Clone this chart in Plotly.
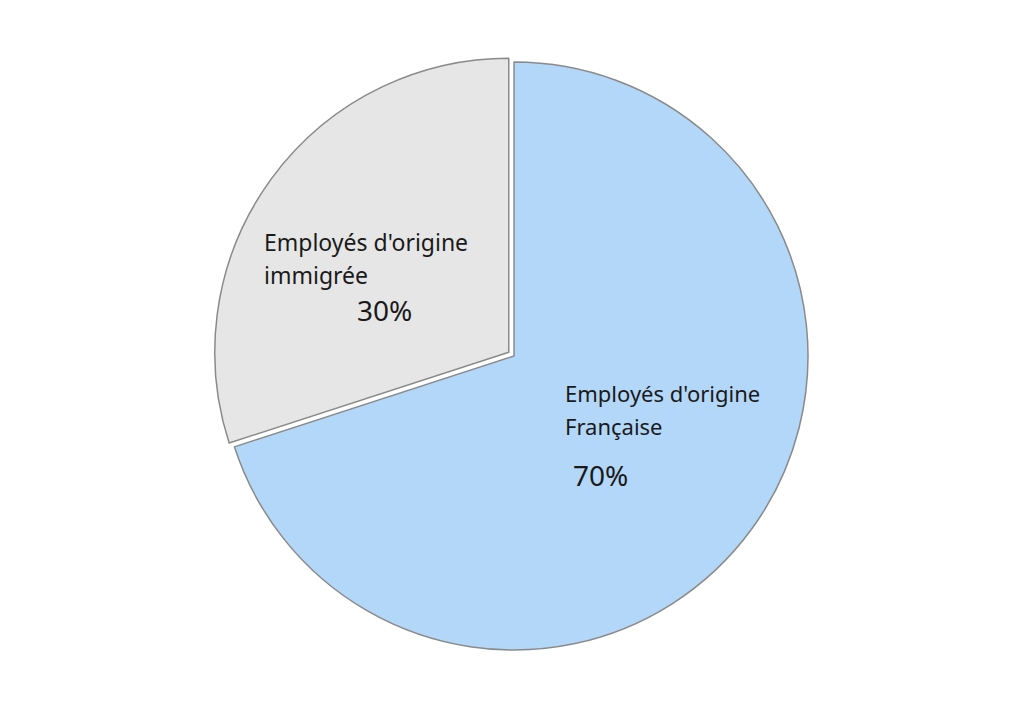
import plotly.graph_objects as go

labels = ["Employés d'origine Française", "Employés d'origine immigrée"]
values = [70, 30]
label_lines = [["Employés d'origine", "Française"], ["Employés d'origine", "immigrée"]]
colors = ["#b3d7f9", "#e6e6e6"]
pulls = [0, 0.022]

W, H = 1024, 712
OFF = 8  # page body margin
cx, cy, r = 514 - OFF, 356 - OFF, 294
D = 2 * r * (1 + max(pulls))

fig = go.Figure(go.Pie(
    labels=labels, values=values, sort=False, direction="clockwise", rotation=0,
    marker=dict(colors=colors, line=dict(color="#8a8a8a", width=1.5)),
    pull=pulls, textinfo="none", hoverinfo="label+percent", showlegend=False,
    domain=dict(x=[(cx - D / 2) / W, (cx + D / 2) / W],
                y=[1 - (cy + D / 2) / H, 1 - (cy - D / 2) / H]),
))

total = sum(values)
pct = [f"{round(v * 100 / total)}%" for v in values]

font = dict(family="Noto Sans, Open Sans, sans-serif", color="#1a1a1a")
# (x, y line1, y line2, pct x, pct y, label size) in pixels
pos = [(563, 393, 426, 600, 475, 22), (262, 242, 275, 384, 310, 23)]
ann = []
for i, (x, y1, y2, px, py, fs) in enumerate(pos):
    x, y1, y2, px, py = x - OFF, y1 - OFF, y2 - OFF, px - OFF, py - OFF
    ann.append(dict(x=x / W, y=1 - y1 / H, text=label_lines[i][0], xanchor="left", yanchor="middle",
                    showarrow=False, xref="paper", yref="paper", font=dict(size=fs, **font)))
    ann.append(dict(x=x / W, y=1 - y2 / H, text=label_lines[i][1], xanchor="left", yanchor="middle",
                    showarrow=False, xref="paper", yref="paper", font=dict(size=fs, **font)))
    ann.append(dict(x=px / W, y=1 - py / H, text=pct[i], xanchor="center", yanchor="middle",
                    showarrow=False, xref="paper", yref="paper", font=dict(size=28, **font)))

fig.update_layout(width=W, height=H, margin=dict(l=0, r=0, t=0, b=0),
                  paper_bgcolor="white", plot_bgcolor="white", annotations=ann)
fig.write_html("out.html")
